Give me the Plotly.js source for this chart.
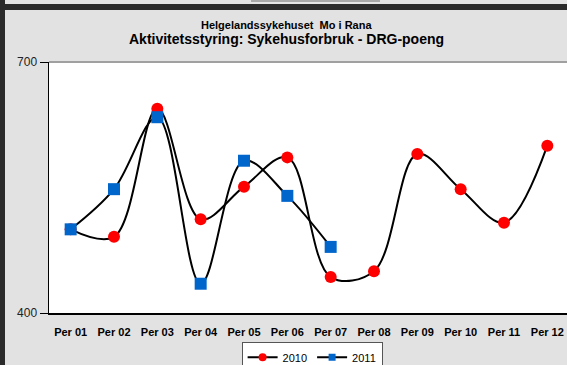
<!DOCTYPE html>
<html>
<head>
<meta charset="utf-8">
<script src="https://cdn.plot.ly/plotly-3.0.1.min.js"></script>
<style>
html, body { margin:0; padding:0; width:567px; height:365px; overflow:hidden; background:#e2e2e2; }
#chart { position:absolute; left:0; top:0; }
.deco { position:absolute; z-index:10; }
</style>
</head>
<body>
<div id="chart"></div>
<div class="deco" style="left:0;top:0;width:567px;height:4px;background:#e4e4e4;"></div>
<div class="deco" style="left:251px;top:0;width:129px;height:2px;background:#a8a8a8;"></div>
<div class="deco" style="left:0;top:4px;width:567px;height:6px;background:#2b2b2b;"></div>
<div class="deco" style="left:0;top:0;width:5px;height:365px;background:#2b2b2b;"></div>
<script>
const categories = ["Per 01","Per 02","Per 03","Per 04","Per 05","Per 06","Per 07","Per 08","Per 09","Per 10","Per 11","Per 12"];
const values2010 = [500, 491, 644, 512, 551, 586, 443, 450, 590, 548, 508, 600];
const categories2011 = ["Per 01","Per 02","Per 03","Per 04","Per 05","Per 06","Per 07"];
const values2011 = [500, 548, 634, 435, 582, 540, 479];
const yTicks = [400, 700];

const font = "Liberation Sans, Arial, sans-serif";

const traces = [
  {
    x: categories, y: values2010, name: "2010", type: "scatter", mode: "lines+markers", showlegend: false,
    line: {color: "#000000", width: 2, shape: "spline", smoothing: 1},
    marker: {color: "#ff0000", symbol: "circle", size: 12}
  },
  {
    x: categories2011, y: values2011, name: "2011", type: "scatter", mode: "lines+markers", showlegend: false,
    line: {color: "#000000", width: 2, shape: "spline", smoothing: 1},
    marker: {color: "#0066cc", symbol: "square", size: 12}
  },
  {
    x: [null], y: [null], name: "2010", type: "scatter", mode: "lines+markers",
    line: {color: "#000000", width: 2}, marker: {color: "#ff0000", symbol: "circle", size: 8}
  },
  {
    x: [null], y: [null], name: "2011", type: "scatter", mode: "lines+markers",
    line: {color: "#000000", width: 2}, marker: {color: "#0066cc", symbol: "square", size: 7}
  }
];

const layout = {
  width: 600, height: 365,
  margin: {l: 49, r: 31, t: 62, b: 52, pad: 0, autoexpand: false},
  paper_bgcolor: "#e2e2e2",
  plot_bgcolor: "#ffffff",
  font: {family: font, color: "#000000"},
  showlegend: true,
  legend: {
    orientation: "h", x: 0.506, xanchor: "center", y: -0.115, yanchor: "top",
    bgcolor: "#ffffff", bordercolor: "#555555", borderwidth: 1,
    font: {family: font, size: 11, color: "#000"},
    itemwidth: 30, tracegroupgap: 0
  },
  xaxis: {
    type: "category", categoryorder: "array", categoryarray: categories,
    range: [-0.5, 11.5],
    showgrid: false, zeroline: false,
    showline: true, linecolor: "#000000", linewidth: 1.5,
    ticks: "", ticklabelstandoff: 8,
    tickfont: {family: font, size: 11, color: "#000", weight: "bold"}
  },
  yaxis: {
    range: [400, 700], tickvals: yTicks, ticktext: yTicks.map(String),
    showgrid: false, zeroline: false,
    showline: true, linecolor: "#000000", linewidth: 1.5,
    ticks: "outside", ticklen: 8, tickcolor: "#000", tickwidth: 1,
    tickfont: {family: font, size: 12, color: "#222"}
  },
  shapes: [
    {type: "line", xref: "paper", yref: "paper", x0: 0, x1: 1, y0: 1, y1: 1,
     line: {color: "#a0a0a0", width: 2}}
  ],
  annotations: [
    {text: "<b>Helgelandssykehuset  Mo i Rana</b>", xref: "paper", yref: "paper",
     x: 0.456, y: 1.0 + (62 - 17) / 251, xanchor: "center", yanchor: "top", showarrow: false,
     font: {family: font, size: 11, color: "#000"}},
    {text: "<b>Aktivitetsstyring: Sykehusforbruk - DRG-poeng</b>", xref: "paper", yref: "paper",
     x: 0.456, y: 1.0 + (62 - 29) / 251, xanchor: "center", yanchor: "top", showarrow: false,
     font: {family: font, size: 14, color: "#000"}}
  ]
};

Plotly.newPlot("chart", traces, layout, {displayModeBar: false, staticPlot: true});
</script>
</body>
</html>
